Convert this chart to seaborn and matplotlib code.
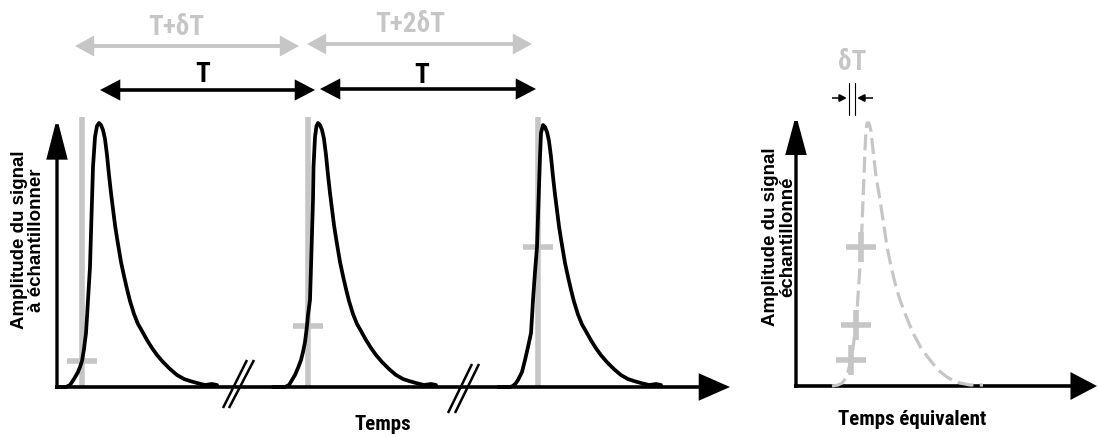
import matplotlib
matplotlib.use("Agg")
import matplotlib.pyplot as plt
import seaborn as sns
import pandas as pd

sns.set_theme(style="white")
plt.rcParams['font.family'] = ['Liberation Sans', 'DejaVu Sans']

# ---------------- data (left panel: time offset from peak, amplitude) ----------------
decay_dt = [0, 2, 4, 6, 8, 10, 12, 14, 16, 18, 20, 22, 25, 28, 31, 35, 39, 43, 48, 53, 58, 64, 71, 78, 85, 91, 98, 106, 113, 118]
decay_a = [264, 262, 257, 248, 232, 212, 194, 178, 162, 149, 137, 125, 111, 98, 86, 73, 63, 56, 47, 39, 32, 25, 18, 12, 8, 6, 4, 2, 3, 2]

peak_t = [42, 261, 486]
rise1_dt = [-42, -33, -29, -25, -21, -19, -17, -15, -13, -12, -11, -9, -8, -7, -6, -4, -2]
rise1_a = [0, 0, 2, 8, 15, 20, 26, 38, 54, 70, 87, 120, 154, 187, 220, 250, 261]
rise2_dt = [-45, -33, -29, -26, -23, -20, -17, -15, -13, -11, -10, -8, -7, -6, -5, -4.5, -3, -1.5]
rise2_a = [0, 0, 2, 7, 12, 19, 27, 35, 45, 61, 72, 87, 120, 154, 187, 220, 250, 261]
rise3_dt = [-45, -33, -30, -27, -25, -23, -21, -18, -15, -12, -11, -10, -8, -6, -5, -4, -3, -2]
rise3_a = [0, 0, 1, 4, 7, 11, 15, 27, 40, 54, 70, 87, 115, 140, 170, 200, 230, 254]

sample_t = [25, 251, 481]          # sampling instants (grey lines)
sample_a = [26, 61, 140]           # sampled amplitudes (grey ticks)
sample_top = 270

break_marks = [(166, 190, 172, 197, -21, 27), (391, 415, 398, 422, -26, 23)]

period_labels = ["T+\u03b4T", "T+2\u03b4T"]
period_label_t = [119, 353]
period_label_a = [352, 355]
grey_arrows = [(18, 242, 341), (250, 475, 343)]
black_arrows = [(43, 258, 297), (263, 479, 298)]
T_label_t = [146, 365]
T_label_a = [305, 304]

# right panel (equivalent time): reconstructed signal
equiv_t = [36, 42, 46, 50, 53, 55, 57, 60, 62, 64, 65, 66, 67, 68, 69, 70, 71, 73, 75, 77, 80, 84, 88, 91, 95, 99, 104, 110, 117, 125, 134, 142, 151, 158, 164, 174, 187]
equiv_a = [0, 1, 3, 8, 18, 26, 38, 61, 90, 120, 139, 160, 186, 210, 236, 255, 263, 263, 255, 236, 210, 186, 160, 139, 120, 103, 86, 70, 53, 38, 26, 16, 9, 5, 3, 1, 1]
equiv_pts_t = [55, 60, 65]
equiv_pts_a = [26, 61, 139]

GREY = "#c6c6c6"
BLACK = "black"

fig = plt.figure(figsize=(10.98, 4.37), dpi=100)
axL = fig.add_axes([0, 0, 1, 1])
axR = fig.add_axes([0, 0, 1, 1])


def arrow(ax, x0, y0, x1, y1, color, lw, hl, hw, style="-|>"):
    ax.annotate("", xy=(x1, y1), xytext=(x0, y0),
                arrowprops=dict(arrowstyle=f"{style},head_length={hl},head_width={hw}",
                                color=color, lw=lw, shrinkA=0, shrinkB=0,
                                mutation_scale=1, joinstyle="miter", capstyle="butt"))

# ---------------- left panel ----------------
arrow(axL, 0, -2, 0, 269, BLACK, 2.4, 24, 6.2)
arrow(axL, -2, 0, 673, 0, BLACK, 2.6, 18, 7.9)

for t, a in zip(sample_t, sample_a):
    axL.plot([t, t], [0, sample_top], color=GREY, lw=4, solid_capstyle="butt", zorder=2)
    axL.plot([t], [a], marker="_", ms=21.5, mew=4, color=GREY, zorder=2)

rises = [(rise1_dt, rise1_a), (rise2_dt, rise2_a), (rise3_dt, rise3_a)]
frames = []
for i, (pk, (rdt, ra)) in enumerate(zip(peak_t, rises)):
    scale = 1.0 if i < 2 else 262 / 264
    t = [pk + d for d in rdt] + [pk + d for d in decay_dt]
    a = list(ra) + [v * scale for v in decay_a]
    frames.append(pd.DataFrame({"t": t, "a": a, "p": i}))
pulses = pd.concat(frames)
for p, d in pulses.groupby("p"):
    sns.lineplot(data=d, x="t", y="a", ax=axL, color=BLACK, lw=2.7, sort=False,
                 estimator=None, zorder=3)

for xa0, xa1, xb0, xb1, y0, y1 in break_marks:
    axL.plot([xa0, xa1], [y0, y1], color=BLACK, lw=1.8, solid_capstyle="butt")
    axL.plot([xb0, xb1], [y0, y1], color=BLACK, lw=1.8, solid_capstyle="butt")

for x0, x1, y in grey_arrows:
    arrow(axL, x0, y, x1, y, GREY, 2.8, 9.5, 5.2, "<|-|>")
for x0, x1, y in black_arrows:
    arrow(axL, x0, y, x1, y, BLACK, 2.6, 10.5, 5.5, "<|-|>")

narrow = ['Roboto Condensed', 'PT Sans Narrow', 'Liberation Sans', 'DejaVu Sans']
for lab, t, a in zip(period_labels, period_label_t, period_label_a):
    axL.text(t, a, lab, color=GREY, fontsize=19.5, fontweight="bold", family=narrow,
             ha="center", va="baseline")
for t, a in zip(T_label_t, T_label_a):
    axL.text(t, a, "T", color=BLACK, fontsize=19.5, fontweight="bold", family=narrow,
             ha="center", va="baseline")

axL.text(326, -43, "Temps", color=BLACK, fontsize=15, fontweight="bold", family=narrow,
         ha="center", va="baseline")
axL.text(-29, 147, "Amplitude du signal\n\u00e0 \u00e9chantillonner", rotation=90,
         color=BLACK, fontsize=13.5, fontweight="bold", ha="center", va="center",
         multialignment="center", linespacing=1.0)

# ---------------- right panel ----------------
arrow(axR, 0, -2, 0, 271, BLACK, 2.4, 23, 6.2)
arrow(axR, -2, 0, 301, 0, BLACK, 2.6, 15, 7.9)

sns.lineplot(x=equiv_t, y=equiv_a, ax=axR, color=GREY, lw=2.3, sort=False,
             estimator=None, zorder=3)
axR.lines[-1].set_dashes([5, 2])
axR.plot(equiv_pts_t, equiv_pts_a, ls="none", marker="+", ms=21, mew=4, color=GREY, zorder=2)

axR.plot([53, 53], [271, 303], color=BLACK, lw=0.8)
axR.plot([59, 59], [271, 303], color=BLACK, lw=0.8)
arrow(axR, 36, 288, 51, 288, BLACK, 1.1, 4.5, 2.3)
arrow(axR, 77, 288, 61, 288, BLACK, 1.1, 4.5, 2.3)
axR.text(56, 316, "\u03b4T", color=GREY, fontsize=19.5, fontweight="bold", family=narrow,
         ha="center", va="baseline")

axR.text(116, -39, "Temps \u00e9quivalent", color=BLACK, fontsize=15, fontweight="bold",
         family=narrow, ha="center", va="baseline")
axR.text(-17, 149, "Amplitude du signal\n\u00e9chantillonn\u00e9", rotation=90,
         color=BLACK, fontsize=13.5, fontweight="bold", ha="center", va="center",
         multialignment="center", linespacing=1.0)

for ax, x0, y0 in ((axL, 57, 387), (axR, 796, 386)):
    ax.set_xlim(-x0, 1098 - x0)
    ax.set_ylim(y0 - 437, y0)
    ax.axis("off")
axR.patch.set_alpha(0)

fig.savefig("out.png", dpi=100)
